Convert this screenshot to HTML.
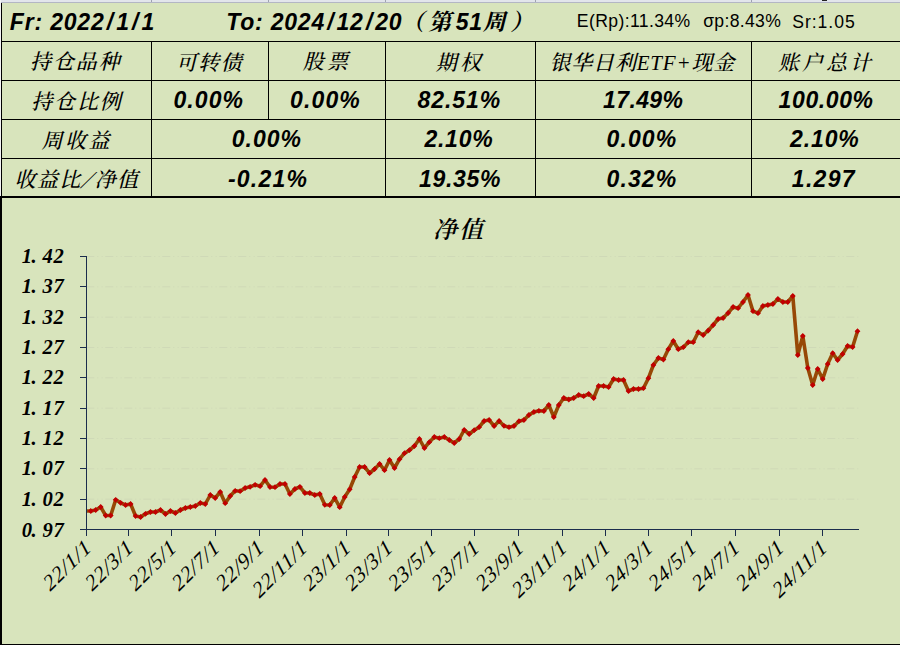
<!DOCTYPE html>
<html lang="zh-CN">
<head>
<meta charset="utf-8">
<title>净值</title>
<style>
html,body{margin:0;padding:0;}
body{width:900px;height:645px;position:relative;overflow:hidden;background:#D8E4BC;
  font-family:"Liberation Sans","Noto Sans CJK SC",sans-serif;color:#000;}
.abs{position:absolute;}
.hl{position:absolute;background:#000;height:1px;}
.vl{position:absolute;background:#000;width:1px;}
.t{position:absolute;white-space:nowrap;line-height:1;}
.cn{font-family:"Liberation Serif","Noto Serif CJK SC",serif;font-style:italic;font-size:21px;font-weight:500;}
.cn .lat{font-family:"Liberation Serif",serif;font-size:21px;}
.num{font-family:"Liberation Sans",sans-serif;font-style:italic;font-weight:bold;font-size:23px;}
.hd{font-family:"Liberation Sans",sans-serif;font-style:italic;font-weight:bold;font-size:23px;}
.hdc{font-family:"Liberation Sans","Noto Serif CJK SC",serif;font-style:italic;font-weight:bold;font-size:23px;}
.sl{margin:0 2.2px;}
.d{letter-spacing:0.8px;}
.bs{display:inline-block;margin:0 3px;transform:skewX(-30deg) scaleY(1.15);}
.sm{font-family:"Liberation Sans",sans-serif;font-size:17.6px;}
</style>
</head>
<body>
<!-- top spreadsheet strip -->
<div class="abs" style="left:0;top:0;width:900px;height:2px;background:#E2E5EB;"></div>
<div class="abs" style="left:0;top:2px;width:900px;height:1px;background:#B3B6C4;"></div>
<div class="abs" style="left:151px;top:0;width:1px;height:2px;background:#9EA2B0;"></div>
<div class="abs" style="left:268px;top:0;width:1px;height:2px;background:#9EA2B0;"></div>
<div class="abs" style="left:385px;top:0;width:1px;height:2px;background:#9EA2B0;"></div>
<div class="abs" style="left:535px;top:0;width:1px;height:2px;background:#9EA2B0;"></div>
<div class="abs" style="left:751px;top:0;width:1px;height:2px;background:#9EA2B0;"></div>
<div class="abs" style="left:822px;top:0;width:5px;height:1px;background:#222;"></div>
<!-- left white sliver + black edge -->
<div class="abs" style="left:0;top:0;width:1px;height:196px;background:#F4F4F4;"></div>
<div class="vl" style="left:1px;top:3px;height:193px;"></div>
<!-- table lines -->
<div class="hl" style="left:1px;top:41px;width:899px;"></div>
<div class="hl" style="left:1px;top:80px;width:899px;"></div>
<div class="hl" style="left:1px;top:119px;width:899px;"></div>
<div class="hl" style="left:1px;top:158px;width:899px;"></div>
<div class="hl" style="left:0;top:196px;width:900px;height:2px;"></div>
<div class="vl" style="left:151px;top:41px;height:155px;"></div>
<div class="vl" style="left:268px;top:41px;height:78px;"></div>
<div class="vl" style="left:385px;top:41px;height:155px;"></div>
<div class="vl" style="left:535px;top:41px;height:155px;"></div>
<div class="vl" style="left:751px;top:41px;height:155px;"></div>
<!-- chart frame -->
<div class="vl" style="left:0;top:196px;width:2px;height:449px;"></div>
<div class="hl" style="left:0;top:644px;width:900px;"></div>
<div class="t hd" style="left:9.80px;top:11.00px;letter-spacing:0.82px;">Fr: 2022<span class="sl">/</span>1<span class="sl">/</span>1</div>
<div class="t hd" style="left:226.20px;top:11.20px;letter-spacing:0.79px;">To: 2024<span class="sl">/</span>12<span class="sl">/</span>20</div>
<div class="t hdc" style="left:401.00px;top:11.00px;letter-spacing:4.32px;">（第<span class="d">51</span>周）</div>
<div class="t sm" style="left:576.80px;top:13.40px;letter-spacing:0.38px;">E(Rp):11.34%</div>
<div class="t sm" style="left:703.20px;top:13.40px;letter-spacing:0.31px;">σp:8.43%</div>
<div class="t sm" style="left:792.20px;top:13.60px;letter-spacing:0.96px;">Sr:1.05</div>
<div class="t cn" style="left:30.00px;top:52.40px;letter-spacing:1.92px;">持仓品种</div>
<div class="t cn" style="left:176.00px;top:53.00px;letter-spacing:1.35px;">可转债</div>
<div class="t cn" style="left:302.80px;top:52.00px;letter-spacing:3.24px;">股票</div>
<div class="t cn" style="left:435.80px;top:53.00px;letter-spacing:3.24px;">期权</div>
<div class="t cn" style="left:549.50px;top:53.00px;letter-spacing:0.80px;">银华日利<span class="lat">ETF+</span>现金</div>
<div class="t cn" style="left:778.00px;top:52.50px;letter-spacing:3.00px;">账户总计</div>
<div class="t cn" style="left:31.20px;top:92.40px;letter-spacing:1.86px;">持仓比例</div>
<div class="t cn" style="left:41.40px;top:130.80px;letter-spacing:2.52px;">周收益</div>
<div class="t cn" style="left:14.60px;top:170.20px;letter-spacing:1.30px;">收益比<span class="bs">/</span>净值</div>
<div class="t num" style="left:173.50px;top:89.40px;letter-spacing:1.08px;">0.00%</div>
<div class="t num" style="left:290.10px;top:89.40px;letter-spacing:1.12px;">0.00%</div>
<div class="t num" style="left:417.50px;top:89.40px;letter-spacing:0.94px;">82.51%</div>
<div class="t num" style="left:603.00px;top:89.40px;letter-spacing:0.40px;">17.49%</div>
<div class="t num" style="left:778.60px;top:89.40px;letter-spacing:0.60px;">100.00%</div>
<div class="t num" style="left:231.70px;top:128.20px;letter-spacing:1.03px;">0.00%</div>
<div class="t num" style="left:424.50px;top:128.20px;letter-spacing:0.72px;">2.10%</div>
<div class="t num" style="left:606.50px;top:128.20px;letter-spacing:1.12px;">0.00%</div>
<div class="t num" style="left:790.00px;top:128.20px;letter-spacing:0.90px;">2.10%</div>
<div class="t num" style="left:227.90px;top:168.00px;letter-spacing:1.22px;">-0.21%</div>
<div class="t num" style="left:418.90px;top:168.00px;letter-spacing:0.72px;">19.35%</div>
<div class="t num" style="left:606.50px;top:168.00px;letter-spacing:1.12px;">0.32%</div>
<div class="t num" style="left:791.80px;top:168.00px;letter-spacing:1.31px;">1.297</div>
<svg class="abs" style="left:0;top:198px;" width="900" height="446" viewBox="0 198 900 446">
<g stroke="#CFD9B7" stroke-width="1" stroke-dasharray="8 3 1 3.3 1 2.7" fill="none">
<line x1="86.3" y1="499.17" x2="859" y2="499.17"/>
<line x1="86.3" y1="468.83" x2="859" y2="468.83"/>
<line x1="86.3" y1="438.50" x2="859" y2="438.50"/>
<line x1="86.3" y1="408.17" x2="859" y2="408.17"/>
<line x1="86.3" y1="377.83" x2="859" y2="377.83"/>
<line x1="86.3" y1="347.50" x2="859" y2="347.50"/>
<line x1="86.3" y1="317.17" x2="859" y2="317.17"/>
<line x1="86.3" y1="286.83" x2="859" y2="286.83"/>
<line x1="86.3" y1="256.50" x2="859" y2="256.50"/>
</g>
<clipPath id="pa"><rect x="86.5" y="240" width="780" height="300"/></clipPath>
<g clip-path="url(#pa)"><polyline points="85.8,511.0 90.8,511.0 95.7,510.0 100.7,507.0 105.7,515.5 110.7,515.5 115.7,499.8 120.6,502.8 125.6,505.0 130.6,504.0 135.6,516.0 140.6,517.0 145.5,513.8 150.5,512.0 155.5,512.0 160.5,510.0 165.5,514.0 170.4,511.0 175.4,513.0 180.4,510.0 185.4,508.0 190.3,507.0 195.3,506.0 200.3,503.0 205.3,504.0 210.3,495.0 215.2,498.0 220.2,492.0 225.2,503.2 230.2,496.0 235.2,490.8 240.1,491.2 245.1,488.0 250.1,486.8 255.1,484.8 260.1,486.2 265.0,480.0 270.0,487.0 275.0,487.2 280.0,484.0 285.0,484.0 289.9,494.0 294.9,489.0 299.9,486.8 304.9,493.0 309.8,493.0 314.8,495.0 319.8,494.0 324.8,504.8 329.8,505.0 334.7,498.0 339.7,507.2 344.7,497.0 349.7,489.3 354.7,477.0 359.6,467.0 364.6,467.0 369.6,473.2 374.6,469.0 379.6,464.0 384.5,470.2 389.5,460.0 394.5,468.0 399.5,459.2 404.5,453.2 409.4,450.2 414.4,446.0 419.4,439.0 424.4,448.0 429.3,442.2 434.3,437.0 439.3,438.2 444.3,437.0 449.3,440.0 454.2,443.0 459.2,439.0 464.2,430.0 469.2,434.0 474.2,430.2 479.1,427.2 484.1,421.0 489.1,420.0 494.1,426.0 499.1,421.0 504.0,425.8 509.0,427.2 514.0,426.0 519.0,421.2 523.9,420.0 528.9,415.0 533.9,412.0 538.9,410.8 543.9,411.0 548.8,405.0 553.8,417.0 558.8,405.0 563.8,398.0 568.8,399.5 573.7,398.0 578.7,395.0 583.7,396.2 588.7,394.0 593.7,398.0 598.6,386.0 603.6,386.0 608.6,387.0 613.6,379.0 618.6,380.0 623.5,380.0 628.5,391.0 633.5,389.0 638.5,389.0 643.4,388.2 648.4,378.2 653.4,365.0 658.4,358.0 663.4,359.5 668.3,349.2 673.3,341.0 678.3,349.2 683.3,347.2 688.3,342.2 693.2,342.2 698.2,332.2 703.2,335.0 708.2,330.5 713.2,325.0 718.1,319.0 723.1,318.0 728.1,313.0 733.1,307.0 738.1,308.2 743.0,302.0 748.0,295.0 753.0,311.2 758.0,313.2 762.9,306.0 767.9,305.0 772.9,304.0 777.9,299.0 782.9,302.0 787.8,302.0 792.8,296.0 797.8,355.0 802.8,336.0 807.8,368.0 812.7,385.0 817.7,369.0 822.7,379.0 827.7,364.0 832.7,353.2 837.6,360.0 842.6,354.0 847.6,346.0 852.6,347.0 857.5,331.2" fill="none" stroke="#974806" stroke-width="3.6" stroke-linejoin="round" stroke-linecap="butt"/>
<path d="M90.8 508.1l2.9 2.9l-2.9 2.9l-2.9 -2.9zM95.7 507.1l2.9 2.9l-2.9 2.9l-2.9 -2.9zM100.7 504.1l2.9 2.9l-2.9 2.9l-2.9 -2.9zM105.7 512.6l2.9 2.9l-2.9 2.9l-2.9 -2.9zM110.7 512.6l2.9 2.9l-2.9 2.9l-2.9 -2.9zM115.7 496.9l2.9 2.9l-2.9 2.9l-2.9 -2.9zM120.6 499.9l2.9 2.9l-2.9 2.9l-2.9 -2.9zM125.6 502.1l2.9 2.9l-2.9 2.9l-2.9 -2.9zM130.6 501.1l2.9 2.9l-2.9 2.9l-2.9 -2.9zM135.6 513.1l2.9 2.9l-2.9 2.9l-2.9 -2.9zM140.6 514.1l2.9 2.9l-2.9 2.9l-2.9 -2.9zM145.5 510.9l2.9 2.9l-2.9 2.9l-2.9 -2.9zM150.5 509.1l2.9 2.9l-2.9 2.9l-2.9 -2.9zM155.5 509.1l2.9 2.9l-2.9 2.9l-2.9 -2.9zM160.5 507.1l2.9 2.9l-2.9 2.9l-2.9 -2.9zM165.5 511.1l2.9 2.9l-2.9 2.9l-2.9 -2.9zM170.4 508.1l2.9 2.9l-2.9 2.9l-2.9 -2.9zM175.4 510.1l2.9 2.9l-2.9 2.9l-2.9 -2.9zM180.4 507.1l2.9 2.9l-2.9 2.9l-2.9 -2.9zM185.4 505.1l2.9 2.9l-2.9 2.9l-2.9 -2.9zM190.3 504.1l2.9 2.9l-2.9 2.9l-2.9 -2.9zM195.3 503.1l2.9 2.9l-2.9 2.9l-2.9 -2.9zM200.3 500.1l2.9 2.9l-2.9 2.9l-2.9 -2.9zM205.3 501.1l2.9 2.9l-2.9 2.9l-2.9 -2.9zM210.3 492.1l2.9 2.9l-2.9 2.9l-2.9 -2.9zM215.2 495.1l2.9 2.9l-2.9 2.9l-2.9 -2.9zM220.2 489.1l2.9 2.9l-2.9 2.9l-2.9 -2.9zM225.2 500.3l2.9 2.9l-2.9 2.9l-2.9 -2.9zM230.2 493.1l2.9 2.9l-2.9 2.9l-2.9 -2.9zM235.2 487.9l2.9 2.9l-2.9 2.9l-2.9 -2.9zM240.1 488.3l2.9 2.9l-2.9 2.9l-2.9 -2.9zM245.1 485.1l2.9 2.9l-2.9 2.9l-2.9 -2.9zM250.1 483.9l2.9 2.9l-2.9 2.9l-2.9 -2.9zM255.1 481.9l2.9 2.9l-2.9 2.9l-2.9 -2.9zM260.1 483.3l2.9 2.9l-2.9 2.9l-2.9 -2.9zM265.0 477.1l2.9 2.9l-2.9 2.9l-2.9 -2.9zM270.0 484.1l2.9 2.9l-2.9 2.9l-2.9 -2.9zM275.0 484.3l2.9 2.9l-2.9 2.9l-2.9 -2.9zM280.0 481.1l2.9 2.9l-2.9 2.9l-2.9 -2.9zM285.0 481.1l2.9 2.9l-2.9 2.9l-2.9 -2.9zM289.9 491.1l2.9 2.9l-2.9 2.9l-2.9 -2.9zM294.9 486.1l2.9 2.9l-2.9 2.9l-2.9 -2.9zM299.9 483.9l2.9 2.9l-2.9 2.9l-2.9 -2.9zM304.9 490.1l2.9 2.9l-2.9 2.9l-2.9 -2.9zM309.8 490.1l2.9 2.9l-2.9 2.9l-2.9 -2.9zM314.8 492.1l2.9 2.9l-2.9 2.9l-2.9 -2.9zM319.8 491.1l2.9 2.9l-2.9 2.9l-2.9 -2.9zM324.8 501.9l2.9 2.9l-2.9 2.9l-2.9 -2.9zM329.8 502.1l2.9 2.9l-2.9 2.9l-2.9 -2.9zM334.7 495.1l2.9 2.9l-2.9 2.9l-2.9 -2.9zM339.7 504.3l2.9 2.9l-2.9 2.9l-2.9 -2.9zM344.7 494.1l2.9 2.9l-2.9 2.9l-2.9 -2.9zM349.7 486.4l2.9 2.9l-2.9 2.9l-2.9 -2.9zM354.7 474.1l2.9 2.9l-2.9 2.9l-2.9 -2.9zM359.6 464.1l2.9 2.9l-2.9 2.9l-2.9 -2.9zM364.6 464.1l2.9 2.9l-2.9 2.9l-2.9 -2.9zM369.6 470.3l2.9 2.9l-2.9 2.9l-2.9 -2.9zM374.6 466.1l2.9 2.9l-2.9 2.9l-2.9 -2.9zM379.6 461.1l2.9 2.9l-2.9 2.9l-2.9 -2.9zM384.5 467.3l2.9 2.9l-2.9 2.9l-2.9 -2.9zM389.5 457.1l2.9 2.9l-2.9 2.9l-2.9 -2.9zM394.5 465.1l2.9 2.9l-2.9 2.9l-2.9 -2.9zM399.5 456.3l2.9 2.9l-2.9 2.9l-2.9 -2.9zM404.5 450.3l2.9 2.9l-2.9 2.9l-2.9 -2.9zM409.4 447.3l2.9 2.9l-2.9 2.9l-2.9 -2.9zM414.4 443.1l2.9 2.9l-2.9 2.9l-2.9 -2.9zM419.4 436.1l2.9 2.9l-2.9 2.9l-2.9 -2.9zM424.4 445.1l2.9 2.9l-2.9 2.9l-2.9 -2.9zM429.3 439.3l2.9 2.9l-2.9 2.9l-2.9 -2.9zM434.3 434.1l2.9 2.9l-2.9 2.9l-2.9 -2.9zM439.3 435.3l2.9 2.9l-2.9 2.9l-2.9 -2.9zM444.3 434.1l2.9 2.9l-2.9 2.9l-2.9 -2.9zM449.3 437.1l2.9 2.9l-2.9 2.9l-2.9 -2.9zM454.2 440.1l2.9 2.9l-2.9 2.9l-2.9 -2.9zM459.2 436.1l2.9 2.9l-2.9 2.9l-2.9 -2.9zM464.2 427.1l2.9 2.9l-2.9 2.9l-2.9 -2.9zM469.2 431.1l2.9 2.9l-2.9 2.9l-2.9 -2.9zM474.2 427.3l2.9 2.9l-2.9 2.9l-2.9 -2.9zM479.1 424.3l2.9 2.9l-2.9 2.9l-2.9 -2.9zM484.1 418.1l2.9 2.9l-2.9 2.9l-2.9 -2.9zM489.1 417.1l2.9 2.9l-2.9 2.9l-2.9 -2.9zM494.1 423.1l2.9 2.9l-2.9 2.9l-2.9 -2.9zM499.1 418.1l2.9 2.9l-2.9 2.9l-2.9 -2.9zM504.0 422.9l2.9 2.9l-2.9 2.9l-2.9 -2.9zM509.0 424.3l2.9 2.9l-2.9 2.9l-2.9 -2.9zM514.0 423.1l2.9 2.9l-2.9 2.9l-2.9 -2.9zM519.0 418.3l2.9 2.9l-2.9 2.9l-2.9 -2.9zM523.9 417.1l2.9 2.9l-2.9 2.9l-2.9 -2.9zM528.9 412.1l2.9 2.9l-2.9 2.9l-2.9 -2.9zM533.9 409.1l2.9 2.9l-2.9 2.9l-2.9 -2.9zM538.9 407.9l2.9 2.9l-2.9 2.9l-2.9 -2.9zM543.9 408.1l2.9 2.9l-2.9 2.9l-2.9 -2.9zM548.8 402.1l2.9 2.9l-2.9 2.9l-2.9 -2.9zM553.8 414.1l2.9 2.9l-2.9 2.9l-2.9 -2.9zM558.8 402.1l2.9 2.9l-2.9 2.9l-2.9 -2.9zM563.8 395.1l2.9 2.9l-2.9 2.9l-2.9 -2.9zM568.8 396.6l2.9 2.9l-2.9 2.9l-2.9 -2.9zM573.7 395.1l2.9 2.9l-2.9 2.9l-2.9 -2.9zM578.7 392.1l2.9 2.9l-2.9 2.9l-2.9 -2.9zM583.7 393.3l2.9 2.9l-2.9 2.9l-2.9 -2.9zM588.7 391.1l2.9 2.9l-2.9 2.9l-2.9 -2.9zM593.7 395.1l2.9 2.9l-2.9 2.9l-2.9 -2.9zM598.6 383.1l2.9 2.9l-2.9 2.9l-2.9 -2.9zM603.6 383.1l2.9 2.9l-2.9 2.9l-2.9 -2.9zM608.6 384.1l2.9 2.9l-2.9 2.9l-2.9 -2.9zM613.6 376.1l2.9 2.9l-2.9 2.9l-2.9 -2.9zM618.6 377.1l2.9 2.9l-2.9 2.9l-2.9 -2.9zM623.5 377.1l2.9 2.9l-2.9 2.9l-2.9 -2.9zM628.5 388.1l2.9 2.9l-2.9 2.9l-2.9 -2.9zM633.5 386.1l2.9 2.9l-2.9 2.9l-2.9 -2.9zM638.5 386.1l2.9 2.9l-2.9 2.9l-2.9 -2.9zM643.4 385.3l2.9 2.9l-2.9 2.9l-2.9 -2.9zM648.4 375.3l2.9 2.9l-2.9 2.9l-2.9 -2.9zM653.4 362.1l2.9 2.9l-2.9 2.9l-2.9 -2.9zM658.4 355.1l2.9 2.9l-2.9 2.9l-2.9 -2.9zM663.4 356.6l2.9 2.9l-2.9 2.9l-2.9 -2.9zM668.3 346.3l2.9 2.9l-2.9 2.9l-2.9 -2.9zM673.3 338.1l2.9 2.9l-2.9 2.9l-2.9 -2.9zM678.3 346.3l2.9 2.9l-2.9 2.9l-2.9 -2.9zM683.3 344.3l2.9 2.9l-2.9 2.9l-2.9 -2.9zM688.3 339.3l2.9 2.9l-2.9 2.9l-2.9 -2.9zM693.2 339.3l2.9 2.9l-2.9 2.9l-2.9 -2.9zM698.2 329.3l2.9 2.9l-2.9 2.9l-2.9 -2.9zM703.2 332.1l2.9 2.9l-2.9 2.9l-2.9 -2.9zM708.2 327.6l2.9 2.9l-2.9 2.9l-2.9 -2.9zM713.2 322.1l2.9 2.9l-2.9 2.9l-2.9 -2.9zM718.1 316.1l2.9 2.9l-2.9 2.9l-2.9 -2.9zM723.1 315.1l2.9 2.9l-2.9 2.9l-2.9 -2.9zM728.1 310.1l2.9 2.9l-2.9 2.9l-2.9 -2.9zM733.1 304.1l2.9 2.9l-2.9 2.9l-2.9 -2.9zM738.1 305.3l2.9 2.9l-2.9 2.9l-2.9 -2.9zM743.0 299.1l2.9 2.9l-2.9 2.9l-2.9 -2.9zM748.0 292.1l2.9 2.9l-2.9 2.9l-2.9 -2.9zM753.0 308.3l2.9 2.9l-2.9 2.9l-2.9 -2.9zM758.0 310.3l2.9 2.9l-2.9 2.9l-2.9 -2.9zM762.9 303.1l2.9 2.9l-2.9 2.9l-2.9 -2.9zM767.9 302.1l2.9 2.9l-2.9 2.9l-2.9 -2.9zM772.9 301.1l2.9 2.9l-2.9 2.9l-2.9 -2.9zM777.9 296.1l2.9 2.9l-2.9 2.9l-2.9 -2.9zM782.9 299.1l2.9 2.9l-2.9 2.9l-2.9 -2.9zM787.8 299.1l2.9 2.9l-2.9 2.9l-2.9 -2.9zM792.8 293.1l2.9 2.9l-2.9 2.9l-2.9 -2.9zM797.8 352.1l2.9 2.9l-2.9 2.9l-2.9 -2.9zM802.8 333.1l2.9 2.9l-2.9 2.9l-2.9 -2.9zM807.8 365.1l2.9 2.9l-2.9 2.9l-2.9 -2.9zM812.7 382.1l2.9 2.9l-2.9 2.9l-2.9 -2.9zM817.7 366.1l2.9 2.9l-2.9 2.9l-2.9 -2.9zM822.7 376.1l2.9 2.9l-2.9 2.9l-2.9 -2.9zM827.7 361.1l2.9 2.9l-2.9 2.9l-2.9 -2.9zM832.7 350.3l2.9 2.9l-2.9 2.9l-2.9 -2.9zM837.6 357.1l2.9 2.9l-2.9 2.9l-2.9 -2.9zM842.6 351.1l2.9 2.9l-2.9 2.9l-2.9 -2.9zM847.6 343.1l2.9 2.9l-2.9 2.9l-2.9 -2.9zM852.6 344.1l2.9 2.9l-2.9 2.9l-2.9 -2.9zM857.5 328.3l2.9 2.9l-2.9 2.9l-2.9 -2.9z" fill="#C00000"/></g>
<g stroke="#1B2C4C" stroke-width="1" fill="none" shape-rendering="crispEdges">
<line x1="86.5" y1="256" x2="86.5" y2="536"/>
<line x1="80" y1="529.5" x2="859" y2="529.5"/>
<line x1="80" y1="499.5" x2="86" y2="499.5"/>
<line x1="80" y1="468.5" x2="86" y2="468.5"/>
<line x1="80" y1="438.5" x2="86" y2="438.5"/>
<line x1="80" y1="408.5" x2="86" y2="408.5"/>
<line x1="80" y1="377.5" x2="86" y2="377.5"/>
<line x1="80" y1="347.5" x2="86" y2="347.5"/>
<line x1="80" y1="317.5" x2="86" y2="317.5"/>
<line x1="80" y1="286.5" x2="86" y2="286.5"/>
<line x1="80" y1="256.5" x2="86" y2="256.5"/>
<line x1="128.5" y1="530" x2="128.5" y2="536"/>
<line x1="171.5" y1="530" x2="171.5" y2="536"/>
<line x1="215.5" y1="530" x2="215.5" y2="536"/>
<line x1="259.5" y1="530" x2="259.5" y2="536"/>
<line x1="302.5" y1="530" x2="302.5" y2="536"/>
<line x1="346.5" y1="530" x2="346.5" y2="536"/>
<line x1="388.5" y1="530" x2="388.5" y2="536"/>
<line x1="431.5" y1="530" x2="431.5" y2="536"/>
<line x1="474.5" y1="530" x2="474.5" y2="536"/>
<line x1="518.5" y1="530" x2="518.5" y2="536"/>
<line x1="562.5" y1="530" x2="562.5" y2="536"/>
<line x1="605.5" y1="530" x2="605.5" y2="536"/>
<line x1="648.5" y1="530" x2="648.5" y2="536"/>
<line x1="691.5" y1="530" x2="691.5" y2="536"/>
<line x1="735.5" y1="530" x2="735.5" y2="536"/>
<line x1="779.5" y1="530" x2="779.5" y2="536"/>
<line x1="822.5" y1="530" x2="822.5" y2="536"/>
</g>
<text x="433" y="238" font-family="'Liberation Serif','Noto Serif CJK SC',serif" font-style="italic" font-weight="600" font-size="24" textLength="50" lengthAdjust="spacing">净值</text>
<g font-family="'Liberation Serif',serif" font-style="italic" font-weight="bold" font-size="20.6" fill="#000">
<text x="21.7" y="536.9" letter-spacing="-0.6">0.<tspan x="42.5" letter-spacing="0.8">97</tspan></text>
<text x="21.7" y="505.6" letter-spacing="-0.6">1.<tspan x="42.5" letter-spacing="0.8">02</tspan></text>
<text x="21.7" y="475.2" letter-spacing="-0.6">1.<tspan x="42.5" letter-spacing="0.8">07</tspan></text>
<text x="21.7" y="444.9" letter-spacing="-0.6">1.<tspan x="42.5" letter-spacing="0.8">12</tspan></text>
<text x="21.7" y="414.6" letter-spacing="-0.6">1.<tspan x="42.5" letter-spacing="0.8">17</tspan></text>
<text x="21.7" y="384.2" letter-spacing="-0.6">1.<tspan x="42.5" letter-spacing="0.8">22</tspan></text>
<text x="21.7" y="353.9" letter-spacing="-0.6">1.<tspan x="42.5" letter-spacing="0.8">27</tspan></text>
<text x="21.7" y="323.6" letter-spacing="-0.6">1.<tspan x="42.5" letter-spacing="0.8">32</tspan></text>
<text x="21.7" y="293.2" letter-spacing="-0.6">1.<tspan x="42.5" letter-spacing="0.8">37</tspan></text>
<text x="21.7" y="262.9" letter-spacing="-0.6">1.<tspan x="42.5" letter-spacing="0.8">42</tspan></text>
</g>
<g font-family="'Liberation Serif',serif" font-style="italic" font-size="21.5" fill="#000" text-anchor="end">
<text transform="translate(92.0 550) rotate(-45) skewX(-8)" textLength="59" lengthAdjust="spacing">22/1/1</text>
<text transform="translate(134.0 550) rotate(-45) skewX(-8)" textLength="59" lengthAdjust="spacing">22/3/1</text>
<text transform="translate(177.4 550) rotate(-45) skewX(-8)" textLength="59" lengthAdjust="spacing">22/5/1</text>
<text transform="translate(220.7 550) rotate(-45) skewX(-8)" textLength="59" lengthAdjust="spacing">22/7/1</text>
<text transform="translate(264.8 550) rotate(-45) skewX(-8)" textLength="59" lengthAdjust="spacing">22/9/1</text>
<text transform="translate(308.2 550) rotate(-45) skewX(-8)" textLength="69" lengthAdjust="spacing">22/11/1</text>
<text transform="translate(351.6 550) rotate(-45) skewX(-8)" textLength="59" lengthAdjust="spacing">23/1/1</text>
<text transform="translate(393.6 550) rotate(-45) skewX(-8)" textLength="59" lengthAdjust="spacing">23/3/1</text>
<text transform="translate(437.0 550) rotate(-45) skewX(-8)" textLength="59" lengthAdjust="spacing">23/5/1</text>
<text transform="translate(480.4 550) rotate(-45) skewX(-8)" textLength="59" lengthAdjust="spacing">23/7/1</text>
<text transform="translate(524.5 550) rotate(-45) skewX(-8)" textLength="59" lengthAdjust="spacing">23/9/1</text>
<text transform="translate(567.9 550) rotate(-45) skewX(-8)" textLength="69" lengthAdjust="spacing">23/11/1</text>
<text transform="translate(611.2 550) rotate(-45) skewX(-8)" textLength="59" lengthAdjust="spacing">24/1/1</text>
<text transform="translate(653.9 550) rotate(-45) skewX(-8)" textLength="59" lengthAdjust="spacing">24/3/1</text>
<text transform="translate(697.3 550) rotate(-45) skewX(-8)" textLength="59" lengthAdjust="spacing">24/5/1</text>
<text transform="translate(740.7 550) rotate(-45) skewX(-8)" textLength="59" lengthAdjust="spacing">24/7/1</text>
<text transform="translate(784.8 550) rotate(-45) skewX(-8)" textLength="59" lengthAdjust="spacing">24/9/1</text>
<text transform="translate(828.2 550) rotate(-45) skewX(-8)" textLength="69" lengthAdjust="spacing">24/11/1</text>
</g>
</svg>
</body>
</html>
